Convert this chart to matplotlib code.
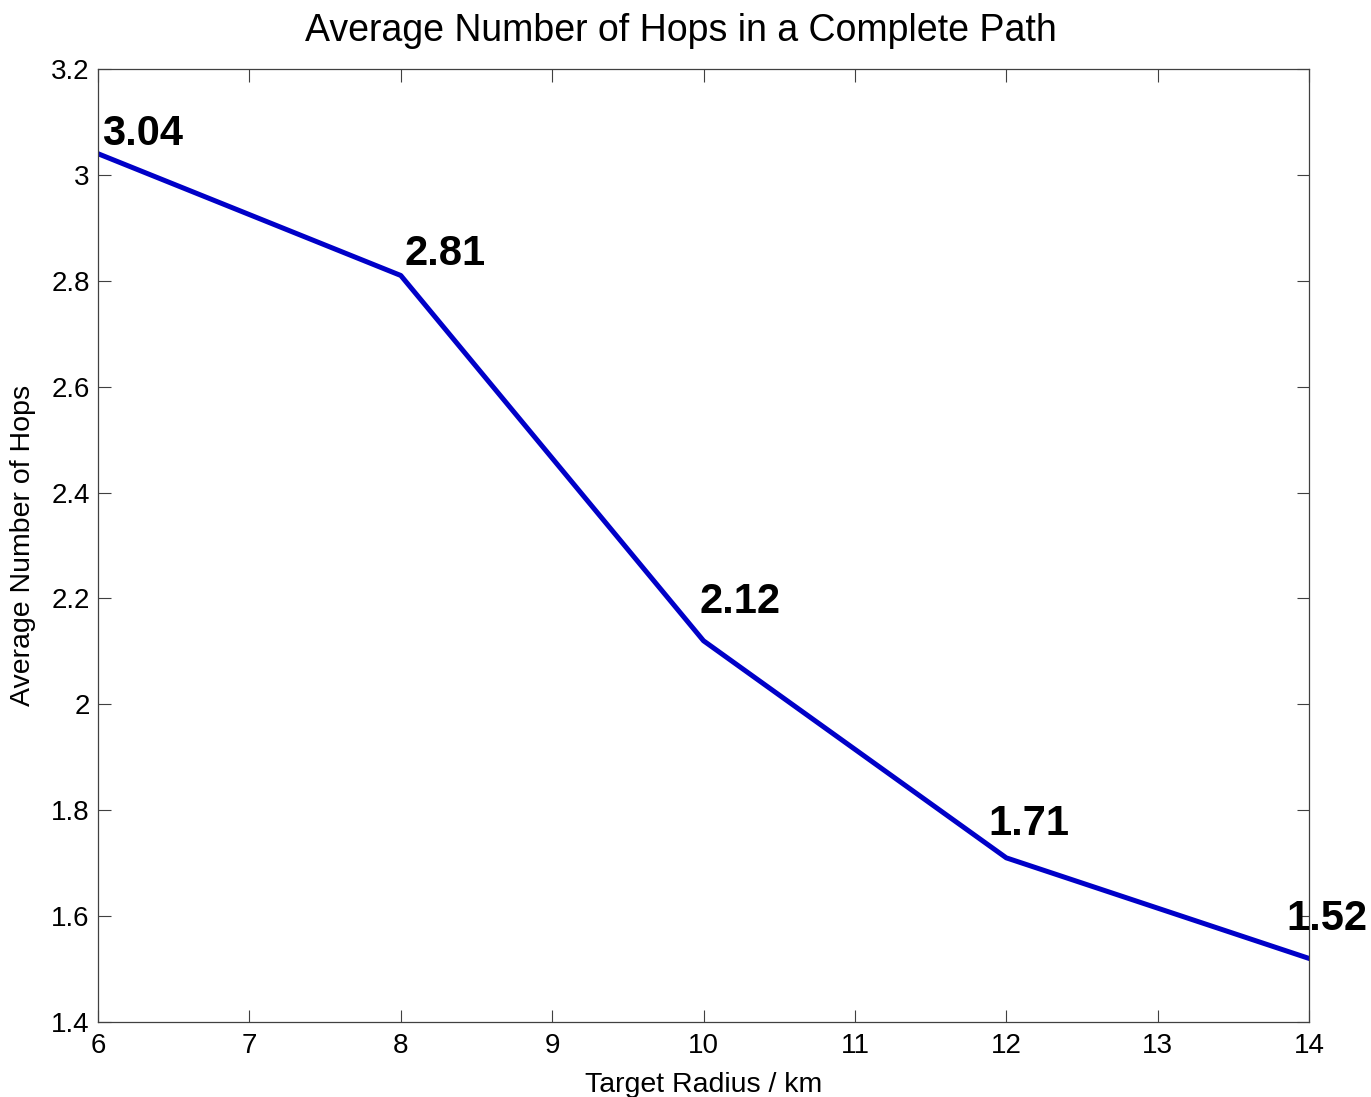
import matplotlib
matplotlib.use("Agg")
import matplotlib.pyplot as plt

radius = [6, 8, 10, 12, 14]
hops = [3.04, 2.81, 2.12, 1.71, 1.52]
labels = ["3.04", "2.81", "2.12", "1.71", "1.52"]
# label offsets in pixels (dx, dy) from each point
label_offsets = [(4, 9), (4, 10), (-4, 28), (-18, 23), (-23, 28)]

plt.rcParams["font.family"] = ["Liberation Sans", "DejaVu Sans"]

fig = plt.figure(figsize=(13.71, 10.97), dpi=100)
ax = fig.add_axes([0.0715, 0.0684, 0.8833, 0.8687])

ax.plot(radius, hops, color="#0000c8", linewidth=3.6)

for x, y, s, (dx, dy) in zip(radius, hops, labels, label_offsets):
    ax.annotate(s, (x, y), xytext=(dx * 0.72, dy * 0.72), textcoords="offset points",
                fontsize=30, fontweight="bold", va="baseline", ha="left",
                annotation_clip=False)

ax.set_xlim(6, 14)
ax.set_ylim(1.4, 3.2)
ax.set_xticks(range(6, 15))
ax.set_yticks([1.4, 1.6, 1.8, 2.0, 2.2, 2.4, 2.6, 2.8, 3.0, 3.2])
ax.set_yticklabels(["1.4", "1.6", "1.8", "2", "2.2", "2.4", "2.6", "2.8", "3", "3.2"])
ax.tick_params(direction="in", top=True, right=True, labelsize=20, length=9,
               width=0.8, color="#404040")
ax.tick_params(axis="x", pad=8)
ax.tick_params(axis="y", pad=6)
for sp in ax.spines.values():
    sp.set_linewidth(0.9)
    sp.set_color("#404040")

ax.set_title("Average Number of Hops in a Complete Path", fontsize=27, pad=20, x=0.481)
ax.set_xlabel("Target Radius / km", fontsize=20.5, labelpad=9)
ax.set_ylabel("Average Number of Hops", fontsize=20.5, labelpad=11)

fig.savefig("out.png", dpi=100)
